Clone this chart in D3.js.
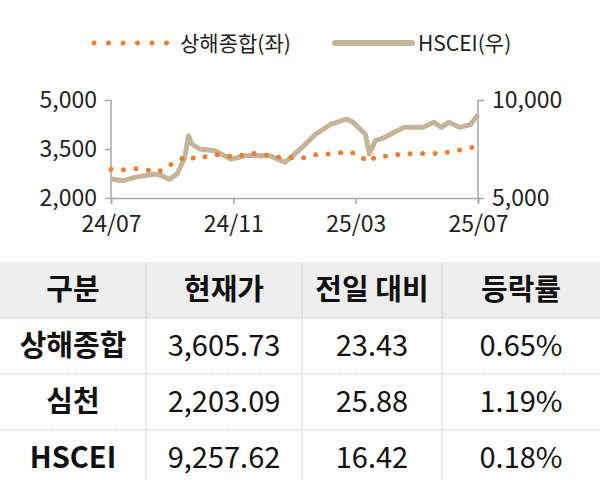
<!DOCTYPE html>
<html><head><meta charset="utf-8">
<script src="https://cdn.jsdelivr.net/npm/d3@7"></script>
<style>body{margin:0;background:#fff;font-family:"Noto Sans CJK KR","Noto Sans",sans-serif;}</style>
</head><body><svg id="chart" width="600" height="480"></svg>
<script>
// HSCEI (right axis) sampled along the year, t = fraction of 24/07 -> 25/07
const hsT = [0,.034,.065,.117,.138,.159,.18,.201,.211,.22,.241,.283,.327,.369,.432,.474,.516,.558,.6,.641,.66,.674,.693,.704,.72,.746,.798,.85,.88,.9,.92,.95,.98,1];
const hsV = [5969,5884,6054,6224,6139,5952,6224,7075,8180,7755,7500,7415,6990,7160,7160,6820,7500,8265,8775,9030,8860,8605,8265,7245,7925,8095,8605,8605,8860,8605,8860,8605,8750,9258];
// Shanghai composite (left axis)
const shT = [0,.031,.065,.096,.128,.18,.211,.232,.264,.295,.337,.379,.41,.452,.52,.551,.583,.614,.645,.677,.698,.724,.761,.795,.829,.866,.9,.934,.97,1];
const shV = [2880,2860,2900,2860,2790,3140,3300,3180,3290,3330,3250,3370,3350,3250,3220,3320,3340,3370,3420,3330,3100,3280,3280,3370,3350,3370,3350,3450,3500,3606];
const xTicks = ["24/07","24/11","25/03","25/07"];
const yLeftTicks = [2000,3500,5000];
const yRightTicks = [5000,10000];
const tableHead = ["구분","현재가","전일 대비","등락률"];
const tableRows = [["상해종합","3,605.73","23.43","0.65%"],["심천","2,203.09","25.88","1.19%"],["HSCEI","9,257.62","16.42","0.18%"]];

const svg = d3.select("#chart");
const orange = "#ED7D31", tan = "#C4B49A", axisCol = "#a6a6a6";
const x = d3.scaleLinear().domain([0,1]).range([111,478]);
const yL = d3.scaleLinear().domain([2000,5000]).range([198,100]);
const yR = d3.scaleLinear().domain([5000,10000]).range([198,100]);

// legend
const lg = svg.append("g").style("font-size","21px").attr("fill","#222");
lg.append("line").attr("x1",94).attr("x2",167).attr("y1",43).attr("y2",43)
  .attr("stroke",orange).attr("stroke-width",5).attr("stroke-linecap","round").attr("stroke-dasharray","0 14.5");
lg.append("text").attr("x",180).attr("y",51).text("상해종합(좌)");
lg.append("line").attr("x1",335).attr("x2",412).attr("y1",43).attr("y2",43)
  .attr("stroke",tan).attr("stroke-width",6).attr("stroke-linecap","round");
lg.append("text").attr("x",418).attr("y",51).text("HSCEI(우)");

// axes
const fmt = d3.format(",");
const axL = svg.append("g").attr("transform","translate(111,0)")
  .call(d3.axisLeft(yL).tickValues(yLeftTicks).tickFormat(fmt).tickSize(6).tickPadding(8));
const axR = svg.append("g").attr("transform","translate(478,0)")
  .call(d3.axisRight(yR).tickValues(yRightTicks).tickFormat(fmt).tickSize(6).tickPadding(8));
const axB = svg.append("g").attr("transform","translate(0,198)")
  .call(d3.axisBottom(x).tickValues([0,1/3,2/3,1]).tickFormat((d,i)=>xTicks[i]).tickSize(6).tickPadding(12));
[axL,axR,axB].forEach(a=>{
  a.selectAll("path,line").attr("stroke",axisCol).attr("stroke-width",1.5);
  a.selectAll("text").style("font-size","23px").attr("fill","#222").style("font-family","Noto Sans CJK KR");
});
axL.select(".domain").attr("d","M0,100V198");
axR.select(".domain").attr("d","M0,100V198");

// lines
svg.append("path").datum(hsT.map((t,i)=>[t,hsV[i]]))
  .attr("d",d3.line().x(d=>x(d[0])).y(d=>yR(d[1])))
  .attr("fill","none").attr("stroke",tan).attr("stroke-width",5).attr("stroke-linejoin","round");
svg.append("path").datum(shT.map((t,i)=>[t,shV[i]]))
  .attr("d",d3.line().x(d=>x(d[0])).y(d=>yL(d[1])))
  .attr("fill","none").attr("stroke",orange).attr("stroke-width",5)
  .attr("stroke-linecap","round").attr("stroke-dasharray","0 12.5");

// table
const colX = [0,146,302,442,600];
const rowY = [262,318,374,430,486];
const tb = svg.append("g");
tb.append("rect").attr("x",0).attr("y",rowY[0]).attr("width",600).attr("height",rowY[1]-rowY[0]).attr("fill","#eeeeee");
[1,2,3].forEach(i=>tb.append("line").attr("x1",colX[i]).attr("x2",colX[i]).attr("y1",rowY[0]).attr("y2",480)
  .attr("stroke","#bbb").attr("stroke-dasharray","1 1"));
[1,2,3].forEach(i=>tb.append("line").attr("x1",0).attr("x2",600).attr("y1",rowY[i]).attr("y2",rowY[i])
  .attr("stroke","#bbb").attr("stroke-dasharray","1 1"));
[tableHead,...tableRows].forEach((row,r)=>{
  row.forEach((v,c)=>{
    tb.append("text").attr("x",(colX[c]+colX[c+1])/2).attr("y",(rowY[r]+rowY[r+1])/2+10)
      .attr("text-anchor","middle").style("font-size","29px").attr("fill","#111")
      .style("font-weight",(r===0||c===0)?"bold":"normal").text(v);
  });
});
</script></body></html>
